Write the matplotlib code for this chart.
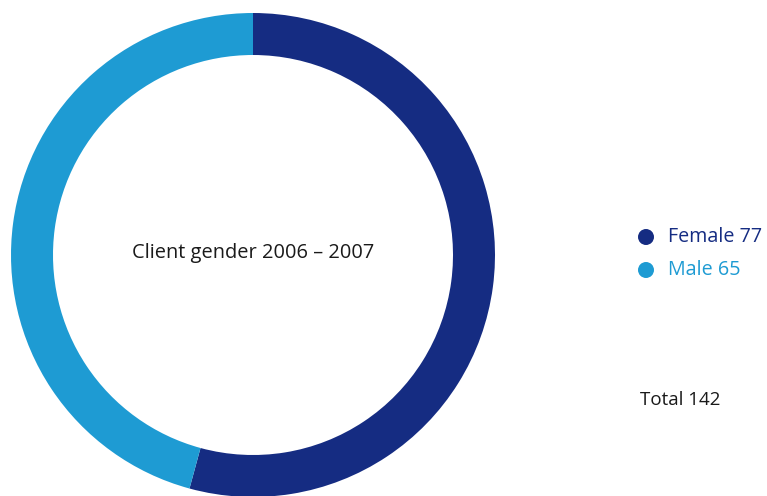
import matplotlib.pyplot as plt
from matplotlib.patches import Circle

# data
labels = ['Female', 'Male']
values = [77, 65]
colors = ['#152c82', '#1e9bd3']
title = 'Client gender 2006 – 2007'

W, H = 767, 496
fig = plt.figure(figsize=(W / 100, H / 100), dpi=100)
ax = fig.add_axes([0, 0, 1, 1])

plt.rcParams['font.family'] = ['Open Sans', 'DejaVu Sans']

cx, cy = 253, H - 255
ax.pie(values, colors=colors, center=(cx, cy), radius=242, startangle=90,
       counterclock=False, wedgeprops=dict(width=42, linewidth=0), frame=True)
ax.set_xlim(0, W)
ax.set_ylim(0, H)
ax.set_aspect('equal')
ax.axis('off')

ax.text(cx, cy + 2, title, ha='center', va='center', fontsize=14.4, color='#1a1a1a')

# legend
for i, (lab, val, col) in enumerate(zip(labels, values, colors)):
    y = H - 237 - i * 33
    ax.add_patch(Circle((646, y), 8, color=col, linewidth=0))
    ax.text(668, y, f'{lab} {val}', ha='left', va='center', fontsize=14.2, color=col)

ax.text(640, H - 400, f'Total {sum(values)}', ha='left', va='center',
        fontsize=13.5, color='#1a1a1a')

fig.savefig('out.png', dpi=100)
